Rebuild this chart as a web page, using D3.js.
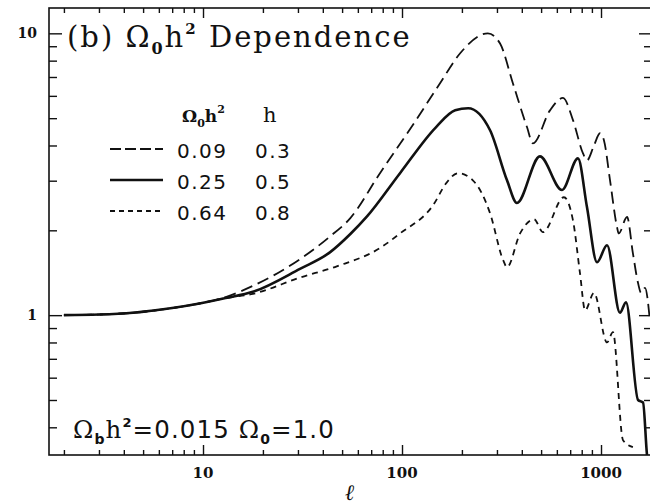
<!DOCTYPE html>
<html>
<head>
<meta charset="utf-8">
<script src="https://cdn.jsdelivr.net/npm/d3@7"></script>
<style>
  body { margin: 0; background: #fff; }
  svg { display: block; }
</style>
</head>
<body>
<script>
// multipole l vs. relative power
const longDash = [
  [2, 1.0], [3, 1.005], [4.45, 1.02], [7, 1.06], [9.6, 1.10], [13, 1.16],
  [17.8, 1.27], [30.7, 1.58], [43.4, 1.90], [55, 2.21], [77.5, 3.19],
  [114, 4.76], [155, 6.64], [196, 8.5], [270, 10.0], [311, 9.2], [361, 6.64],
  [425, 4.64], [455, 4.07], [554, 5.33], [644, 5.9], [723, 4.92], [812, 3.75],
  [850, 3.54], [922, 4.0], [988, 4.42], [1035, 4.17], [1110, 3.01],
  [1204, 2.05], [1227, 1.95], [1352, 2.23], [1446, 1.66], [1535, 1.3],
  [1590, 1.2], [1664, 1.25], [1760, 0.96]
];
const solid = [
  [2, 1.0], [3, 1.005], [4.45, 1.02], [7, 1.06], [9.6, 1.10], [13, 1.15],
  [17.8, 1.21], [30.7, 1.46], [43.4, 1.67], [55, 1.94], [66.7, 2.24],
  [97.7, 3.19], [148, 4.64], [185, 5.33], [215, 5.42], [277, 4.53],
  [337, 3.01], [378, 2.5], [493, 3.66], [637, 2.78], [766, 3.6], [850, 2.42],
  [955, 1.54], [1072, 1.77], [1245, 1.02], [1335, 1.11], [1535, 0.5],
  [1626, 0.49], [1702, 0.32], [1740, 0.28]
];
const shortDash = [
  [2, 1.0], [3, 1.005], [4.45, 1.02], [7, 1.06], [9.6, 1.10], [13, 1.15],
  [17.8, 1.19], [30.7, 1.36], [47, 1.49], [77.5, 1.73], [97.7, 1.95],
  [143, 2.45], [168, 2.96], [191, 3.19], [227, 3.01], [277, 2.3], [322, 1.57],
  [337, 1.48], [392, 1.95], [461, 2.19], [511, 1.97], [651, 2.62], [723, 2.17],
  [784, 1.41], [832, 1.04], [922, 1.2], [1072, 0.80], [1148, 0.87],
  [1290, 0.36], [1446, 0.34]
];

const xTicks = [10, 100, 1000];
const yTicks = [1, 10];
const legendOmega = ["0.09", "0.25", "0.64"];
const legendH = ["0.3", "0.5", "0.8"];

const WIDTH = 650;
const HEIGHT = 504;
const LEFT = 49, TOP = 8, RIGHT = 652, BOTTOM = 455;
const INK = "#111";

const styles = [
  {data: longDash, dash: "12,6", width: 1.8},
  {data: solid, dash: null, width: 2.6},
  {data: shortDash, dash: "6,5", width: 1.8}
];

const xScale = d3.scaleLog().domain([1.683, 1804]).range([LEFT, RIGHT]);
const yScale = d3.scaleLog().domain([0.319, 12.3]).range([BOTTOM, TOP]);

const svg = d3.select("body").append("svg")
    .attr("width", WIDTH)
    .attr("height", HEIGHT);

svg.append("defs").append("clipPath").attr("id", "plot")
  .append("rect")
    .attr("x", LEFT).attr("y", TOP)
    .attr("width", RIGHT - LEFT).attr("height", BOTTOM - TOP);

// curves
const line = d3.line()
    .x(d => xScale(d[0]))
    .y(d => yScale(d[1]))
    .curve(d3.curveMonotoneX);

const curves = svg.append("g").attr("clip-path", "url(#plot)");
styles.forEach(function (s) {
  curves.append("path")
      .attr("d", line(s.data))
      .attr("fill", "none")
      .attr("stroke", INK)
      .attr("stroke-width", s.width)
      .attr("stroke-dasharray", s.dash);
});

// axes: ticks point inward on all four sides
const xMinor = xScale.ticks().filter(t => xTicks.indexOf(t) < 0);
const yMinor = yScale.ticks().filter(t => yTicks.indexOf(t) < 0);

function styleAxis(g) {
  g.select(".domain").remove();
  g.selectAll(".tick line").attr("stroke", INK).attr("stroke-width", 1.4);
  g.selectAll("text").remove();
}

svg.append("g").attr("transform", "translate(0," + BOTTOM + ")")
    .call(d3.axisBottom(xScale).tickValues(xMinor).tickSize(-5)).call(styleAxis);
svg.append("g").attr("transform", "translate(0," + BOTTOM + ")")
    .call(d3.axisBottom(xScale).tickValues(xTicks).tickSize(-10)).call(styleAxis);
svg.append("g").attr("transform", "translate(0," + TOP + ")")
    .call(d3.axisTop(xScale).tickValues(xMinor).tickSize(-5)).call(styleAxis);
svg.append("g").attr("transform", "translate(0," + TOP + ")")
    .call(d3.axisTop(xScale).tickValues(xTicks).tickSize(-10)).call(styleAxis);
svg.append("g").attr("transform", "translate(" + LEFT + ",0)")
    .call(d3.axisLeft(yScale).tickValues(yMinor).tickSize(-8)).call(styleAxis);
svg.append("g").attr("transform", "translate(" + LEFT + ",0)")
    .call(d3.axisLeft(yScale).tickValues(yTicks).tickSize(-13)).call(styleAxis);
svg.append("g").attr("transform", "translate(" + RIGHT + ",0)")
    .call(d3.axisRight(yScale).tickValues(yMinor).tickSize(-8)).call(styleAxis);
svg.append("g").attr("transform", "translate(" + RIGHT + ",0)")
    .call(d3.axisRight(yScale).tickValues(yTicks).tickSize(-13)).call(styleAxis);

svg.append("rect")
    .attr("x", LEFT).attr("y", TOP)
    .attr("width", RIGHT - LEFT).attr("height", BOTTOM - TOP)
    .attr("fill", "none").attr("stroke", INK).attr("stroke-width", 1.6);

// tick labels
svg.selectAll(".xlab").data(xTicks).enter().append("text")
    .attr("class", "xlab")
    .attr("x", d => xScale(d))
    .attr("y", 478)
    .attr("text-anchor", "middle")
    .attr("font-family", "DejaVu Serif")
    .attr("font-weight", "bold")
    .attr("font-size", 15)
    .attr("fill", INK)
    .text(d => d);

svg.selectAll(".ylab").data(yTicks).enter().append("text")
    .attr("class", "ylab")
    .attr("x", 37)
    .attr("y", d => yScale(d) + 5)
    .attr("text-anchor", "end")
    .attr("font-family", "DejaVu Serif")
    .attr("font-weight", "bold")
    .attr("font-size", 14)
    .attr("fill", INK)
    .text(d => d);

svg.append("text")
    .attr("x", 350).attr("y", 500)
    .attr("text-anchor", "middle")
    .attr("font-family", "DejaVu Serif")
    .attr("font-style", "italic")
    .attr("font-weight", "bold")
    .attr("font-size", 22)
    .attr("fill", INK)
    .text("ℓ");

// title
const title = svg.append("text")
    .attr("x", 67).attr("y", 47)
    .attr("font-family", "DejaVu Serif")
    .attr("font-size", 29)
    .attr("letter-spacing", 2)
    .attr("fill", INK);
title.append("tspan").text("(b) Ω");
title.append("tspan").attr("font-size", 16).attr("font-weight", "bold").attr("dy", 7).text("0");
title.append("tspan").attr("dy", -7).text("h");
title.append("tspan").attr("font-size", 15).attr("font-weight", "bold").attr("dy", -13).text("2");
title.append("tspan").attr("dy", 13).text(" Dependence");

// legend
const head = svg.append("text")
    .attr("x", 182).attr("y", 122)
    .attr("font-family", "DejaVu Serif")
    .attr("font-weight", "bold")
    .attr("font-size", 17)
    .attr("fill", INK);
head.append("tspan").text("Ω");
head.append("tspan").attr("font-size", 11).attr("dy", 5).text("0");
head.append("tspan").attr("dy", -5).text("h");
head.append("tspan").attr("font-size", 11).attr("dy", -9).text("2");

svg.append("text")
    .attr("x", 263).attr("y", 122)
    .attr("font-family", "DejaVu Serif")
    .attr("font-size", 21)
    .attr("fill", INK)
    .text("h");

const rowY = [158, 189, 220];
styles.forEach(function (s, i) {
  svg.append("line")
      .attr("x1", 110).attr("x2", 163)
      .attr("y1", rowY[i] - 9).attr("y2", rowY[i] - 9)
      .attr("stroke", INK)
      .attr("stroke-width", s.width)
      .attr("stroke-dasharray", s.dash ? (i === 0 ? "11,4" : "5,4") : null);
  svg.append("text")
      .attr("x", 177).attr("y", rowY[i])
      .attr("font-family", "DejaVu Sans")
      .attr("font-size", 20)
      .attr("letter-spacing", 1.5)
      .attr("fill", INK)
      .text(legendOmega[i]);
  svg.append("text")
      .attr("x", 255).attr("y", rowY[i])
      .attr("font-family", "DejaVu Sans")
      .attr("font-size", 20)
      .attr("letter-spacing", 1.5)
      .attr("fill", INK)
      .text(legendH[i]);
});

// parameter note
const note = svg.append("text")
    .attr("x", 73).attr("y", 438)
    .attr("font-family", "DejaVu Sans")
    .attr("font-size", 24.5)
    .attr("letter-spacing", 1.1)
    .attr("fill", INK);
note.append("tspan").attr("font-family", "DejaVu Serif").text("Ω");
note.append("tspan").attr("font-size", 14).attr("font-weight", "bold").attr("dy", 6).text("b");
note.append("tspan").attr("font-family", "DejaVu Serif").attr("dy", -6).text("h");
note.append("tspan").attr("font-size", 13).attr("font-weight", "bold").attr("dy", -11).text("2");
note.append("tspan").attr("dy", 11).text("=0.015  ");
note.append("tspan").attr("font-family", "DejaVu Serif").text("Ω");
note.append("tspan").attr("font-size", 14).attr("font-weight", "bold").attr("dy", 6).text("0");
note.append("tspan").attr("dy", -6).text("=1.0");
</script>
</body>
</html>
